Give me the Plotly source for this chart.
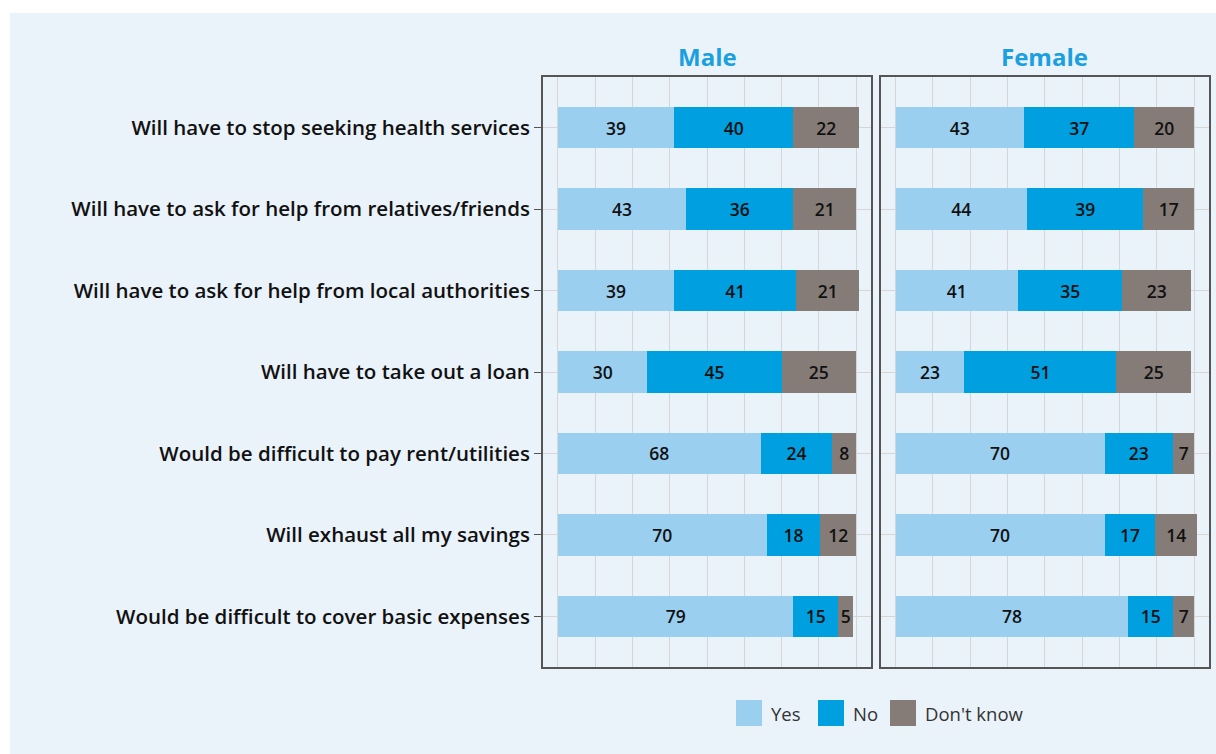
import plotly.graph_objects as go

categories = [
    "Will have to stop seeking health services",
    "Will have to ask for help from relatives/friends",
    "Will have to ask for help from local authorities",
    "Will have to take out a loan",
    "Would be difficult to pay rent/utilities",
    "Will exhaust all my savings",
    "Would be difficult to cover basic expenses",
]
panels = ["Male", "Female"]
series_names = ["Yes", "No", "Don't know"]
male_yes = [39, 43, 39, 30, 68, 70, 79]
male_no = [40, 36, 41, 45, 24, 18, 15]
male_dk = [22, 21, 21, 25, 8, 12, 5]
female_yes = [43, 44, 41, 23, 70, 70, 78]
female_no = [37, 39, 35, 51, 23, 17, 15]
female_dk = [20, 17, 23, 25, 7, 14, 7]

colors = ["#9BCFF0", "#009FE0", "#857C78"]
W, H = 1216, 754
BG = "#EAF2FA"
FONT = "Open Sans"

def px_x(p):
    return p / W

def px_y(p):
    return (H - p) / H

fig = go.Figure()
data = {
    "Male": [male_yes, male_no, male_dk],
    "Female": [female_yes, female_no, female_dk],
}
axes = [("x", "y"), ("x2", "y2")]
for (xa, ya), panel in zip(axes, panels):
    for name, vals, col in zip(series_names, data[panel], colors):
        fig.add_trace(go.Bar(
            y=categories, x=vals, orientation="h", name=name,
            marker=dict(color=col, line=dict(width=0)),
            text=[str(v) for v in vals], textposition="inside",
            insidetextanchor="middle", textangle=0,
            textfont=dict(family=FONT, size=17.5, color="#111", weight=600),
            width=0.51, showlegend=False, xaxis=xa, yaxis=ya,
            hoverinfo="skip",
        ))

y_dom = [px_y(667), px_y(77)]
x_doms = [[px_x(543), px_x(871)], [px_x(880.7), px_x(1209)]]
common_x = dict(range=[-5, 105], tick0=0, dtick=12.5, showticklabels=False,
                showgrid=True, gridcolor="#D6D6D6", gridwidth=1, zeroline=False,
                showline=True, mirror=True, linecolor="#555", linewidth=2,
                ticks="", fixedrange=True, automargin=False)
common_y = dict(categoryorder="array", categoryarray=categories,
                range=[6.62, -0.62], showgrid=True, gridcolor="#D6D6D6",
                zeroline=False, showline=True, mirror=True, linecolor="#555",
                linewidth=2, automargin=False, fixedrange=True)

fig.update_layout(
    width=W, height=H, template="none",
    margin=dict(l=0, r=0, t=0, b=0),
    paper_bgcolor="white", plot_bgcolor=BG,
    barmode="stack", bargap=0.49,
    showlegend=False,
    uniformtext=dict(mode="show", minsize=17),
    xaxis=dict(domain=x_doms[0], anchor="y", **common_x),
    xaxis2=dict(domain=x_doms[1], anchor="y2", **common_x),
    yaxis=dict(domain=y_dom, anchor="x", ticks="outside", ticklen=7,
               tickcolor="#555", tickwidth=1,
               tickfont=dict(family=FONT, size=20.5, color="#111", weight=600),
               **common_y),
    yaxis2=dict(domain=y_dom, anchor="x2", showticklabels=False, ticks="",
                **common_y),
)

shapes = [dict(type="rect", xref="paper", yref="paper", x0=px_x(10), x1=1.01,
               y0=-0.01, y1=px_y(13), fillcolor=BG, line=dict(width=0),
               layer="below")]
annotations = []
for panel, dom in zip(panels, x_doms):
    annotations.append(dict(text=panel, xref="paper", yref="paper",
                            x=(dom[0] + dom[1]) / 2, y=px_y(57),
                            xanchor="center", yanchor="middle", showarrow=False,
                            font=dict(family=FONT, size=24, color="#1AA0E0",
                                      weight=700)))

legend_sq = [736, 818, 890]
for name, col, sx in zip(series_names, colors, legend_sq):
    shapes.append(dict(type="rect", xref="paper", yref="paper",
                       x0=px_x(sx), x1=px_x(sx + 26), y0=px_y(726), y1=px_y(700),
                       fillcolor=col, line=dict(width=0)))
    annotations.append(dict(text=name, xref="paper", yref="paper",
                            x=px_x(sx + 33), y=px_y(713), xanchor="left",
                            yanchor="middle", showarrow=False,
                            font=dict(family=FONT, size=18.5, color="#333")))

fig.update_layout(shapes=shapes, annotations=annotations)
fig.write_html(
    "out.html",
    config={"displayModeBar": False},
    post_script="document.body.style.margin='0';"
                "document.body.style.overflow='hidden';",
)
